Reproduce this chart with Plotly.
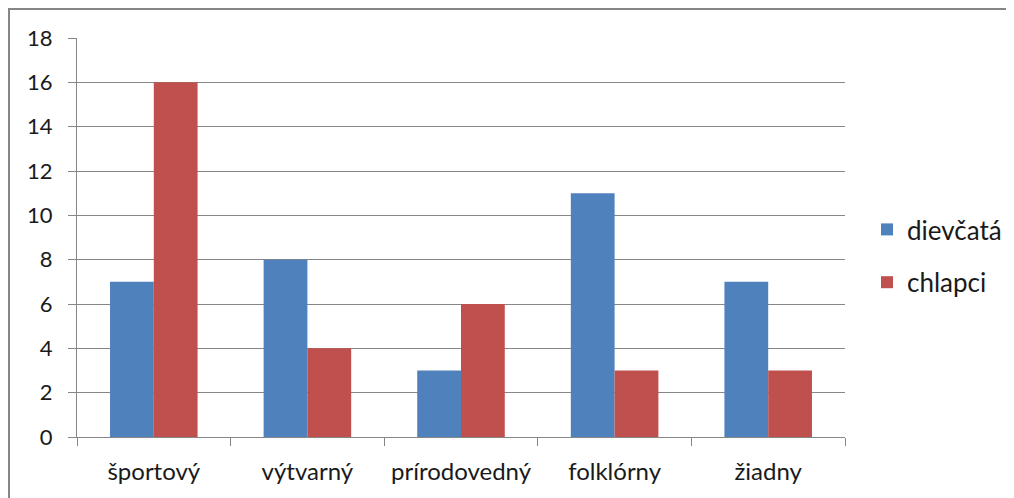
import plotly.graph_objects as go

categories = ["športový", "výtvarný", "prírodovedný", "folklórny", "žiadny"]
dievcata = [7, 8, 3, 11, 7]
chlapci = [16, 4, 6, 3, 3]
y_ticks = [0, 2, 4, 6, 8, 10, 12, 14, 16, 18]

# page body has an 8px margin, so figure coordinates are screen - 8
OFF = 8
W, H = 1014 - OFF, 498 - OFF
L, R, T, B = 77 - OFF, 845 - OFF, 38 - OFF, 437 - OFF

fig = go.Figure()
fig.add_trace(go.Bar(name="dievčatá", x=categories, y=dievcata, marker_color="#4F81BD",
                     marker_line_width=0, legendgroup="a"))
fig.add_trace(go.Bar(name="chlapci", x=categories, y=chlapci, marker_color="#C0504D",
                     marker_line_width=0, legendgroup="b"))

family = "Lato, 'Open Sans', sans-serif"
font = dict(family=family, size=22, color="#1a1a1a")
xfont = dict(family=family, size=24, color="#1a1a1a")
lfont = dict(family=family, size=26, color="#1a1a1a")
pw, ph = R - L, B - T
fig.add_shape(type="rect", xref="paper", yref="paper",
              x0=(1 - L) / pw, x1=(W + 20 - L) / pw,
              y0=(B - (H + 20)) / ph, y1=(B - 1) / ph,
              line=dict(color="#868686", width=2), fillcolor="rgba(0,0,0,0)", layer="below")

fig.update_layout(
    width=W, height=H,
    margin=dict(l=L, r=W - R, t=T, b=H - B, pad=0, autoexpand=False),
    paper_bgcolor="white", plot_bgcolor="white",
    barmode="group", bargap=0.43, bargroupgap=0,
    font=font,
    showlegend=True,
    legend=dict(x=(859 - L) / pw, y=(B - 198) / ph, xanchor="left", yanchor="top",
                traceorder="grouped", tracegroupgap=16, font=lfont,
                bgcolor="rgba(0,0,0,0)", itemwidth=30),
    xaxis=dict(showgrid=False, showline=True, linecolor="#868686", linewidth=1,
               ticks="outside", ticklen=8, tickcolor="#868686", tickson="boundaries",
               tickfont=xfont, ticklabelstandoff=13),
    yaxis=dict(range=[0, 18], tickvals=y_ticks, showgrid=True, gridcolor="#868686",
               gridwidth=1, showline=True, linecolor="#868686", linewidth=1,
               ticks="outside", ticklen=8, tickcolor="#868686", zeroline=False,
               tickfont=font, ticklabelstandoff=11),
)

fig.write_html("out.html")
